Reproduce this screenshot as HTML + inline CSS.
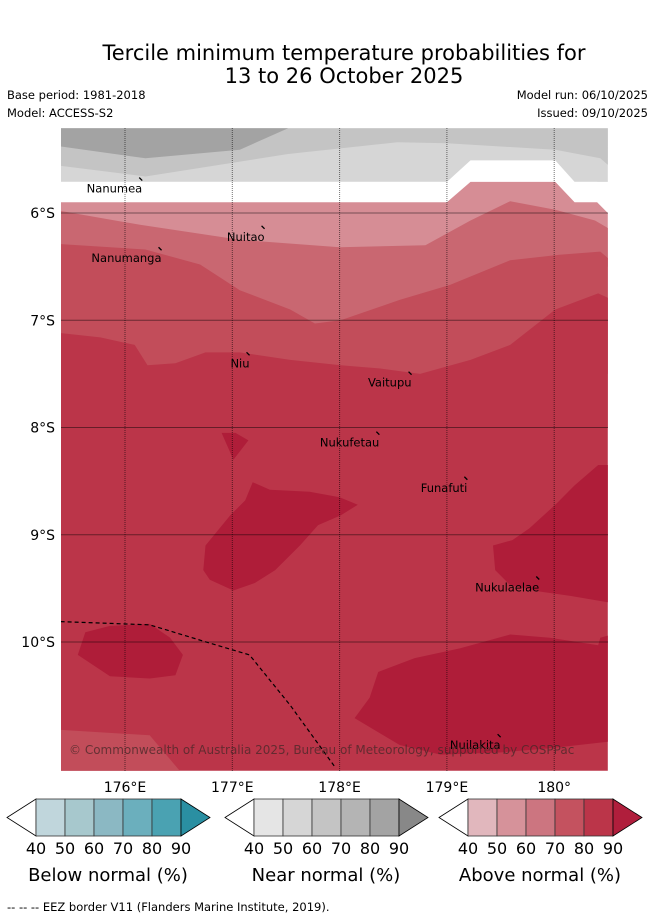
<!DOCTYPE html>
<html><head><meta charset="utf-8">
<style>
body{margin:0;background:#fff;width:655px;height:919px;overflow:hidden;font-family:"Liberation Sans",sans-serif;}
svg text{font-family:"DejaVu Sans","Liberation Sans",sans-serif;}
</style></head>
<body>
<svg id="chart" width="655" height="919" xmlns="http://www.w3.org/2000/svg">
<text x="344" y="60" font-size="21" text-anchor="middle">Tercile minimum temperature probabilities for</text>
<text x="344" y="83" font-size="21" text-anchor="middle">13 to 26 October 2025</text>
<text x="7" y="99" font-size="11.5">Base period: 1981-2018</text>
<text x="7" y="117" font-size="11.5">Model: ACCESS-S2</text>
<text x="648" y="99" font-size="11.5" text-anchor="end">Model run: 06/10/2025</text>
<text x="648" y="117" font-size="11.5" text-anchor="end">Issued: 09/10/2025</text>
<defs><clipPath id="mapclip"><rect x="61" y="128" width="547" height="643"/></clipPath></defs>
<g id="map" clip-path="url(#mapclip)"></g>
<g id="axes"></g>
<g id="cbars"></g>
<text x="7" y="911" font-size="11.5">--  --  -- EEZ border V11 (Flanders Marine Institute, 2019).</text>
</svg>
<script>
// Axis ticks
const lonTicks=[176,177,178,179,180];
const lonLabels=["176°E","177°E","178°E","179°E","180°"];
const latTicks=[6,7,8,9,10];
const latLabels=["6°S","7°S","8°S","9°S","10°S"];
const cbTicks=["40","50","60","70","80","90"];
const cbTitles=["Below normal (%)","Near normal (%)","Above normal (%)"];
const cbColors=[["#c0d6dc","#a7c8cd","#8bb8c3","#6bafbd","#4aa2b2","#2a8fa2"],
["#e5e5e5","#d6d6d6","#c4c4c4","#b4b4b4","#a3a3a3","#888888"],
["#e1b7bd","#d6929a","#cc7580","#c4525f","#bb3549","#b01e3c"]];
// Region polygons [lon, south-lat]
const grayLight=[[175.4,5.21],[180.5,5.21],[180.5,5.71],[175.4,5.71]];
const grayMid=[[175.4,5.21],[180.5,5.21],[180.5,5.55],[180.43,5.49],[180.01,5.41],[179.0,5.35],[178.54,5.34],[177.52,5.45],[176.19,5.66],[175.4,5.56]];
const grayDark=[[175.4,5.21],[177.52,5.21],[177.07,5.41],[176.19,5.49],[175.4,5.38]];
const whiteBand=[[175.4,5.71],[179.0,5.71],[179.22,5.51],[180.01,5.51],[180.19,5.71],[180.4,5.71],[180.5,5.80],[180.5,6.5],[175.4,6.5]];
const pink50=[[175.4,5.90],[179.0,5.90],[179.22,5.71],[180.01,5.71],[180.19,5.90],[180.4,5.90],[180.5,6.0],[180.5,6.5],[175.4,6.5]];
const pink60=[[175.4,5.98],[176.14,6.11],[177.07,6.25],[178.0,6.32],[178.8,6.30],[179.22,6.07],[179.59,5.89],[180.01,5.97],[180.38,6.07],[180.5,6.14],[180.5,7.5],[175.4,7.5]];
const pink70=[[175.4,6.29],[176.19,6.34],[176.7,6.48],[177.07,6.72],[177.54,6.90],[177.77,7.03],[178.01,7.0],[178.56,6.81],[179.03,6.67],[179.59,6.44],[180.05,6.39],[180.43,6.36],[180.5,6.42],[180.5,8],[175.4,8]];
const pink80=[[175.4,7.12],[175.77,7.16],[176.09,7.23],[176.21,7.42],[176.47,7.40],[176.75,7.30],[177.07,7.30],[177.54,7.37],[178.01,7.42],[178.38,7.45],[178.75,7.50],[179.22,7.37],[179.59,7.23],[180.01,6.90],[180.41,6.75],[180.5,6.79],[180.5,11.2],[175.4,11.2]];
const pink70b=[[175.4,10.82],[176.23,10.87],[176.51,11.2],[175.4,11.2]];
const dark1=[[176.9,8.05],[177.03,8.05],[177.15,8.12],[177.01,8.30]];
const dark2=[[177.19,8.51],[177.35,8.58],[177.72,8.60],[178.0,8.65],[178.17,8.72],[178.01,8.82],[177.80,8.91],[177.63,9.10],[177.40,9.33],[177.21,9.45],[177.01,9.52],[176.79,9.42],[176.73,9.33],[176.75,9.10],[176.98,8.82],[177.12,8.68]];
const dark3=[[180.5,8.35],[180.41,8.35],[180.19,8.54],[180.01,8.72],[179.77,8.94],[179.61,9.05],[179.43,9.10],[179.45,9.33],[179.59,9.47],[179.87,9.53],[180.15,9.57],[180.5,9.63]];
const dark4=[[175.63,9.91],[175.86,9.85],[176.23,9.83],[176.42,9.96],[176.54,10.12],[176.47,10.31],[176.23,10.34],[175.86,10.32],[175.56,10.12]];
const dark5=[[178.14,10.71],[178.28,10.52],[178.36,10.28],[178.7,10.15],[179.12,10.06],[179.59,9.93],[179.96,9.96],[180.41,10.03],[180.43,9.96],[180.5,9.94],[180.5,10.93],[179.96,10.99],[179.49,11.03],[178.94,11.05],[178.56,10.96]];
const eez=[[175.4,9.81],[176.23,9.84],[176.79,10.01],[177.16,10.12],[177.54,10.59],[177.96,11.17]];
const places=["Nanumea","Nuitao","Nanumanga","Niu","Vaitupu","Nukufetau","Funafuti","Nukulaelae","Nuilakita"];
const placeLon=[176.17,177.31,176.35,177.17,178.68,178.38,179.2,179.87,179.51];
const placeLat=[5.66,6.11,6.31,7.29,7.47,8.03,8.45,9.38,10.85];

const X=lon=>125+(lon-176)*107.3;
const Y=lat=>213+(lat-6)*107.25;
const NS="http://www.w3.org/2000/svg";
function mk(tag,attrs,parent){const e=document.createElementNS(NS,tag);for(const k in attrs)e.setAttribute(k,attrs[k]);parent.appendChild(e);return e;}
const map=document.getElementById('map');
const layers=[[grayLight,"#d6d6d6","near-normal-40"],[grayMid,"#c4c4c4","near-normal-50"],[grayDark,"#a3a3a3","near-normal-60"],[whiteBand,"#ffffff","no-data-band"],[pink50,"#d68d95","above-normal-50"],[pink60,"#c96771","above-normal-60"],[pink70,"#c24d5a","above-normal-70"],[pink80,"#bb3549","above-normal-80"],[pink70b,"#c24d5a","above-normal-70-south"],[dark1,"#af1d39","above-normal-90-a"],[dark2,"#af1d39","above-normal-90-b"],[dark3,"#af1d39","above-normal-90-c"],[dark4,"#af1d39","above-normal-90-d"],[dark5,"#af1d39","above-normal-90-e"]];
layers.forEach(([pts,col,name])=>{
  const p=mk('polygon',{points:pts.map(q=>X(q[0]).toFixed(1)+','+Y(q[1]).toFixed(1)).join(' '),fill:col},map);
  
  
});
lonTicks.forEach(l=>{const g=mk('line',{x1:X(l),x2:X(l),y1:128,y2:771,stroke:'rgba(0,0,0,0.55)','stroke-width':1,'stroke-dasharray':'1,1'},map);
  
  });
latTicks.forEach(l=>{const g=mk('line',{x1:61,x2:608,y1:Y(l),y2:Y(l),stroke:'rgba(0,0,0,0.45)','stroke-width':1},map);
  
  });
const ez=mk('polyline',{points:eez.map(q=>X(q[0])+','+Y(q[1])).join(' '),fill:'none',stroke:'#000','stroke-width':1.2,'stroke-dasharray':'4,3'},map);


places.forEach((n,i)=>{
  const x=X(placeLon[i]),y=Y(placeLat[i]);
  const m=mk('line',{x1:x-4,y1:y+1,x2:x-1,y2:y+4,stroke:'#000','stroke-width':1.3},map);
  
  
  const t=mk('text',{x:x-1,y:y+16,'font-size':11.5,'text-anchor':'end',fill:'#000'},map);
  t.textContent=n;
  
  
});
const cp=mk('text',{x:69,y:754,'font-size':12,fill:'rgba(70,40,40,0.75)'},map);
cp.textContent="© Commonwealth of Australia 2025, Bureau of Meteorology, supported by COSPPac";


const axes=document.getElementById('axes');
lonTicks.forEach((l,i)=>{const t=mk('text',{x:X(l),y:792,'font-size':14,'text-anchor':'middle'},axes);t.textContent=lonLabels[i];
  
  });
latTicks.forEach((l,i)=>{const t=mk('text',{x:55,y:Y(l)+5,'font-size':14,'text-anchor':'end'},axes);t.textContent=latLabels[i];
  
  });
const cb=document.getElementById('cbars');
[36,254,468].forEach((x0,b)=>{
  const w=29,y0=799,y1=836,ym=817.5;
  const lt=mk('polygon',{points:`${x0-29},${ym} ${x0},${y0} ${x0},${y1}`,fill:'#fff',stroke:'#000','stroke-width':0.8},cb);
  
  
  for(let i=0;i<5;i++){const r=mk('rect',{x:x0+i*w,y:y0,width:w,height:y1-y0,fill:cbColors[b][i],stroke:'#333','stroke-width':0.8},cb);
    
    }
  const rt=mk('polygon',{points:`${x0+145},${y0} ${x0+174},${ym} ${x0+145},${y1}`,fill:cbColors[b][5],stroke:'#000','stroke-width':0.8},cb);
  
  
  cbTicks.forEach((t,i)=>{const e=mk('text',{x:x0+i*w,y:854,'font-size':16,'text-anchor':'middle'},cb);e.textContent=t;
    
    });
  const tt=mk('text',{x:x0+72,y:881,'font-size':18,'text-anchor':'middle'},cb);tt.textContent=cbTitles[b];
  
  
});
</script>
</body></html>
